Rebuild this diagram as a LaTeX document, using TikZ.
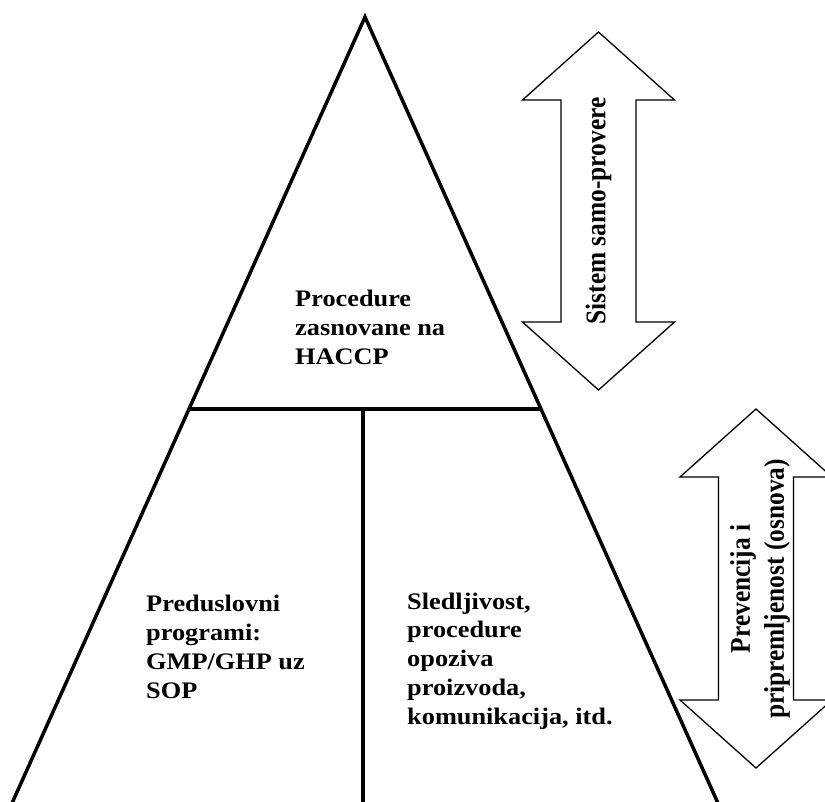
\documentclass[tikz,border=0pt]{standalone}
\usepackage{fontspec}
\setmainfont{Liberation Serif}
\usepackage{tikz}
\usetikzlibrary{calc}
\tikzset{
  piramida/.style={draw=black, line width=3.5pt},
  strelica/.style={draw=black, line width=1.3pt, fill=white, line join=miter},
  tekst/.style={font=\bfseries\fontsize{23.7}{28.7}\selectfont, align=left, anchor=base west,
    inner sep=0pt, xscale=1.11},
  oznaka/.style={font=\bfseries\fontsize{25.4}{30.4}\selectfont, align=center, inner sep=0pt,
    rotate=90, yscale=1.12},
}
\newcommand{\dvostruka}[3]{%
  \draw[strelica] (#1,#2) -- (#1+76,#2+68) -- (#1+37.5,#2+68) -- (#1+37.5,#3-68) -- (#1+76,#3-68)
    -- (#1,#3) -- (#1-76,#3-68) -- (#1-37.5,#3-68) -- (#1-37.5,#2+68) -- (#1-76,#2+68) -- cycle;}

\begin{document}
\begin{tikzpicture}[x=1pt, y=-1pt]
    \useasboundingbox (0,0) rectangle (825,801);
    \clip (0,0) rectangle (825,801);
    \coordinate (vrh) at (365,17);
    \coordinate (levo) at (13,801);
    \coordinate (desno) at (717,801);
    \draw[piramida] ($(vrh)!1.05!(levo)$) -- (vrh) -- ($(vrh)!1.05!(desno)$);
    \draw[piramida] ($(vrh)!0.5!(levo)$) coordinate (sl) -- ($(vrh)!0.5!(desno)$) coordinate (sd);
    \draw[piramida] (363,408) -- (363,820);
    \dvostruka{598.5}{32}{390}
    \dvostruka{756}{409}{768}
    \node[tekst] (haccp) at (295,364) {Procedure\\zasnovane na\\HACCP};
    \node[tekst] (preduslovi) at (146,698) {Preduslovni\\programi:\\GMP/GHP uz\\SOP};
    \node[tekst] (sledljivost) at (407,724) {Sledljivost,\\procedure\\opoziva\\proizvoda,\\komunikacija, itd.};
    \node[oznaka] (samoprovera) at (598.5,211) {Sistem samo-provere};
    \node[oznaka] (prevencija) at (760,589) {Prevencija i\\pripremljenost (osnova)};
\end{tikzpicture}
\end{document}
